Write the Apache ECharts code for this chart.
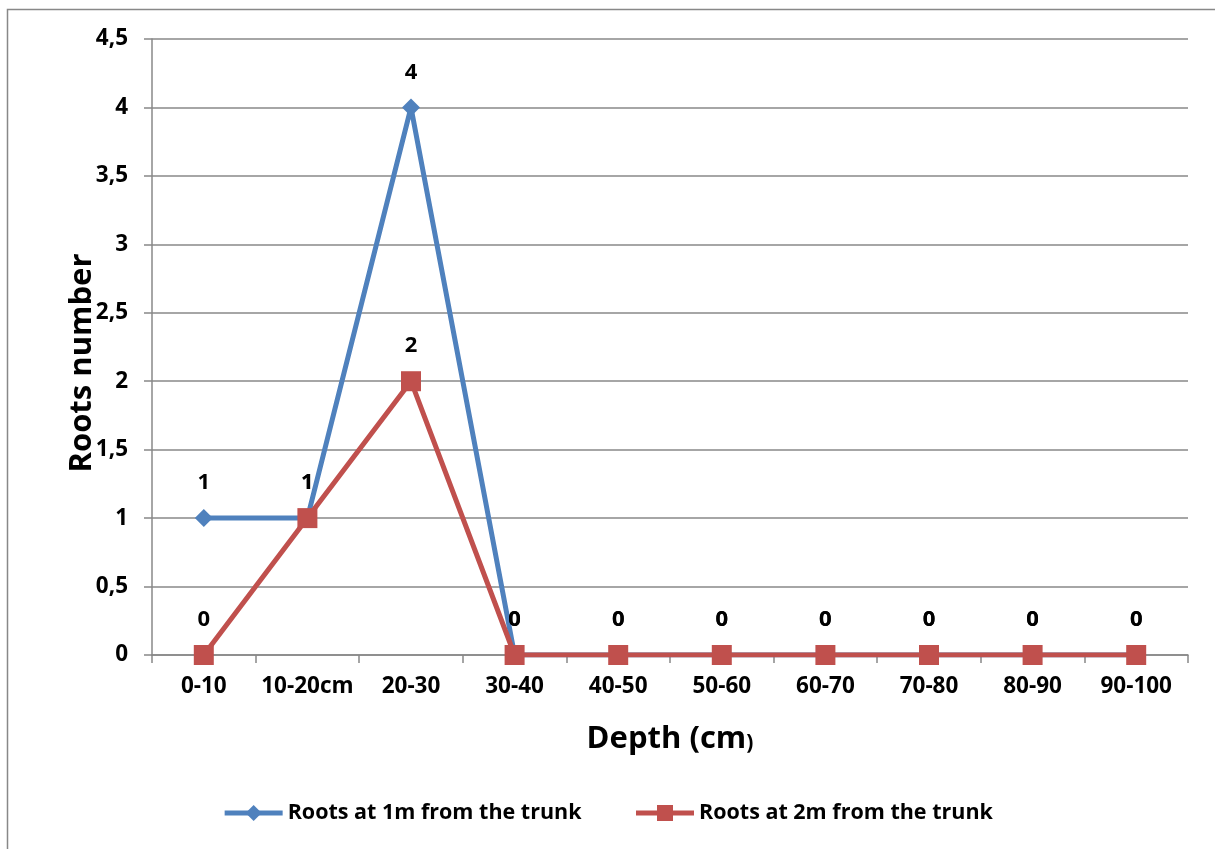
<!DOCTYPE html>
<html><head><meta charset="utf-8">
<script src="https://cdn.jsdelivr.net/npm/echarts@6/dist/echarts.min.js"></script>
<style>html,body{margin:0;padding:0;background:#fff}#c{width:1215px;height:849px}</style>
</head><body><div id="c"></div>
<script>
const categories = ['0-10','10-20cm','20-30','30-40','40-50','50-60','60-70','70-80','80-90','90-100'];
const roots1m = [1,1,4,0,0,0,0,0,0,0];
const roots2m = [0,1,2,0,0,0,0,0,0,0];
const yTicks = {min:0, max:4.5, interval:0.5};
const FONT = '"Open Sans", Lato, sans-serif';
const chart = echarts.init(document.getElementById('c'));
const lbl = d => ({show:true, position:'top', distance:d, fontFamily:FONT, fontWeight:'bold', fontSize:22, color:'#000'});
chart.setOption({
  animation:false,
  graphic:[
    {type:'rect', shape:{x:7.5,y:9.5,width:1210,height:850}, style:{fill:'none', stroke:'#888', lineWidth:1.5}, silent:true},
    {type:'text', x:82, y:363, rotation:Math.PI/2, silent:true,
     style:{text:'Roots number', fontFamily:FONT, fontWeight:'bold', fontSize:31, fill:'#000', textAlign:'center', textVerticalAlign:'middle'}}
  ],
  grid:{left:152, right:27, top:39, bottom:194, containLabel:false},
  legend:{bottom:20, left:'center', itemWidth:58, itemHeight:20, itemGap:52,
    lineStyle:{width:5},
    textStyle:{fontFamily:FONT, fontWeight:'bold', fontSize:21.5, color:'#000'},
    data:['Roots at 1m from the trunk','Roots at 2m from the trunk']},
  xAxis:{type:'category', data:categories, boundaryGap:true,
    axisLine:{lineStyle:{color:'#888', width:1.5}},
    axisTick:{show:true, interval:0, length:8, lineStyle:{color:'#888', width:1.5}},
    axisLabel:{interval:0, fontFamily:FONT, fontWeight:'bold', fontSize:22.5, color:'#000', margin:20},
    name:'{a|Depth (cm}{b|)}', nameLocation:'middle', nameGap:69,
    nameTextStyle:{rich:{a:{fontFamily:FONT, fontWeight:'bold', fontSize:31, color:'#000'}, b:{fontFamily:FONT, fontWeight:'bold', fontSize:21, color:'#000', padding:[8,0,0,0]}}}},
  yAxis:{type:'value', min:yTicks.min, max:yTicks.max, interval:yTicks.interval,
    axisLine:{show:true, lineStyle:{color:'#888', width:1.5}},
    axisTick:{show:true, length:8, lineStyle:{color:'#888', width:1.5}},
    splitLine:{lineStyle:{color:'#888', width:1.5}},
    axisLabel:{fontFamily:FONT, fontWeight:'bold', fontSize:22.5, color:'#000', margin:24,
      formatter:v=>String(v).replace('.',',')}},
  series:[
    {name:'Roots at 1m from the trunk', type:'line', data:roots1m, symbol:'diamond', symbolSize:18,
     lineStyle:{color:'#4F81BD', width:5}, itemStyle:{color:'#4F81BD'}, label:lbl(15), z:2},
    {name:'Roots at 2m from the trunk', type:'line', data:roots2m, symbol:'rect', symbolSize:20,
     lineStyle:{color:'#C0504D', width:5}, itemStyle:{color:'#C0504D'}, label:lbl(14), z:3}
  ]
});
</script></body></html>
